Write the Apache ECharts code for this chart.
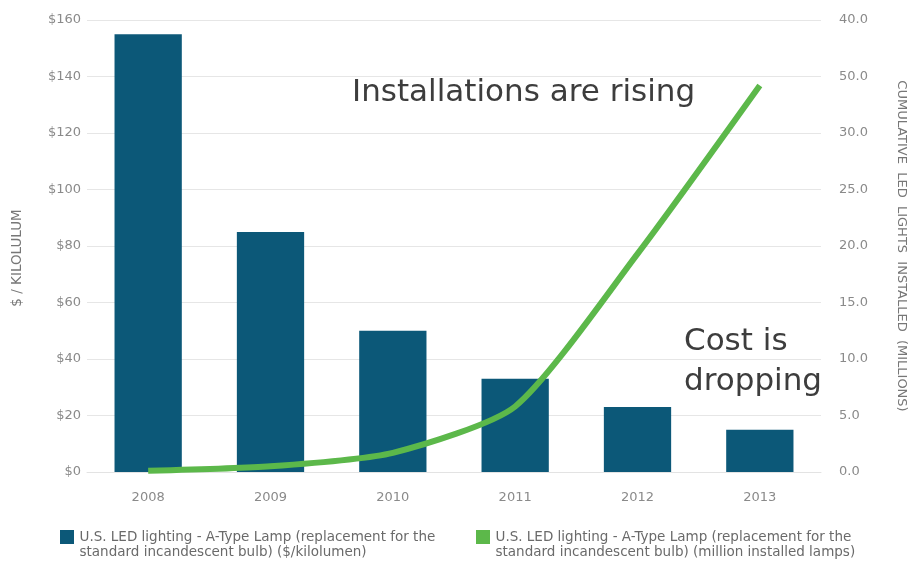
<!DOCTYPE html>
<html>
<head>
<meta charset="utf-8">
<script src="https://cdn.jsdelivr.net/npm/echarts@6/dist/echarts.min.js"></script>
<style>
html,body{margin:0;padding:0;background:#fff;}
#chart{width:911px;height:562px;}
</style>
</head>
<body>
<div id="chart"></div>
<script>
var categories = ['2008', '2009', '2010', '2011', '2012', '2013'];
var costValues = [155, 85, 50, 33, 23, 15];
var installedValues = [0.1, 0.5, 1.7, 5.8, 19.3, 34.2];
var leftTickLabels = ['$0', '$20', '$40', '$60', '$80', '$100', '$120', '$140', '$160'];
var rightTickLabels = ['0.0', '5.0', '10.0', '15.0', '20.0', '25.0', '30.0', '50.0', '40.0'];
var costName = 'U.S. LED lighting - A-Type Lamp (replacement for the\nstandard incandescent bulb) ($/kilolumen)';
var installName = 'U.S. LED lighting - A-Type Lamp (replacement for the\nstandard incandescent bulb) (million installed lamps)';

var FONT = '"DejaVu Sans", sans-serif';
// square on top, invisible sliver at bottom so the icon sits on the first text line
var LEGEND_ICON = 'path://M0,0H14V14H0Z M0,29.9L0.01,29.9L0,30Z';
var chart = echarts.init(document.getElementById('chart'));
chart.setOption({
  animation: false,
  backgroundColor: '#ffffff',
  textStyle: { fontFamily: FONT },
  grid: { left: 87, right: 90, top: 20, bottom: 90, containLabel: false, outerBoundsMode: 'none' },
  legend: [
    {
      data: [{ name: costName, icon: LEGEND_ICON }],
      left: 60, top: 530, padding: 0, itemWidth: 15, itemHeight: 30, itemGap: 8,
      textStyle: { color: '#6a6a6a', fontSize: 13.5, lineHeight: 15, fontFamily: FONT },
      selectedMode: false
    },
    {
      data: [{ name: installName, icon: LEGEND_ICON }],
      left: 476, top: 530, padding: 0, itemWidth: 15, itemHeight: 30, itemGap: 8,
      textStyle: { color: '#6a6a6a', fontSize: 13.5, lineHeight: 15, fontFamily: FONT },
      selectedMode: false
    }
  ],
  xAxis: {
    type: 'category',
    data: categories,
    axisLine: { show: true, lineStyle: { color: '#e3e3e3' } },
    axisTick: { show: false },
    axisLabel: { color: '#8a8a8a', fontSize: 13, margin: 19, fontFamily: FONT }
  },
  yAxis: [
    {
      type: 'value', min: 0, max: 160, interval: 20,
      name: '$ / KILOLULUM', nameLocation: 'middle', nameGap: 63,
      nameTextStyle: { color: '#777', fontSize: 13.5, fontFamily: FONT, padding: [0, 24, 0, 0] },
      axisLine: { show: false }, axisTick: { show: false },
      axisLabel: {
        color: '#8a8a8a', fontSize: 13, margin: 6, fontFamily: FONT,
        formatter: function (v) { return leftTickLabels[Math.round(v / 20)]; }
      },
      splitLine: { lineStyle: { color: '#e6e6e6', width: 1 } }
    },
    {
      type: 'value', min: 0, max: 40, interval: 5, position: 'right',
      name: 'CUMULATIVE  LED  LIGHTS  INSTALLED  (MILLIONS)', nameLocation: 'middle', nameGap: 74, nameRotate: -90,
      nameTextStyle: { color: '#777', fontSize: 13, fontFamily: FONT },
      axisLine: { show: false }, axisTick: { show: false },
      axisLabel: {
        color: '#8a8a8a', fontSize: 13, margin: 18, fontFamily: FONT,
        formatter: function (v) { return rightTickLabels[Math.round(v / 5)]; }
      },
      splitLine: { show: false }
    }
  ],
  series: [
    {
      name: costName, type: 'bar', data: costValues, yAxisIndex: 0,
      barWidth: '55%',
      itemStyle: { color: '#0c5878' }
    },
    {
      name: installName, type: 'line', data: installedValues, yAxisIndex: 1,
      smooth: 0.22, symbol: 'none',
      lineStyle: { color: '#5cb84a', width: 6 },
      itemStyle: { color: '#5cb84a' }
    }
  ],
  graphic: [
    {
      type: 'text', left: 352, top: 77,
      style: { text: 'Installations are rising', fill: '#3d3d3d', font: '31px ' + FONT }
    },
    {
      type: 'text', left: 684, top: 322,
      style: { text: 'Cost is\ndropping', fill: '#3d3d3d', font: '31px ' + FONT, lineHeight: 40 }
    }
  ]
});
</script>
</body>
</html>
